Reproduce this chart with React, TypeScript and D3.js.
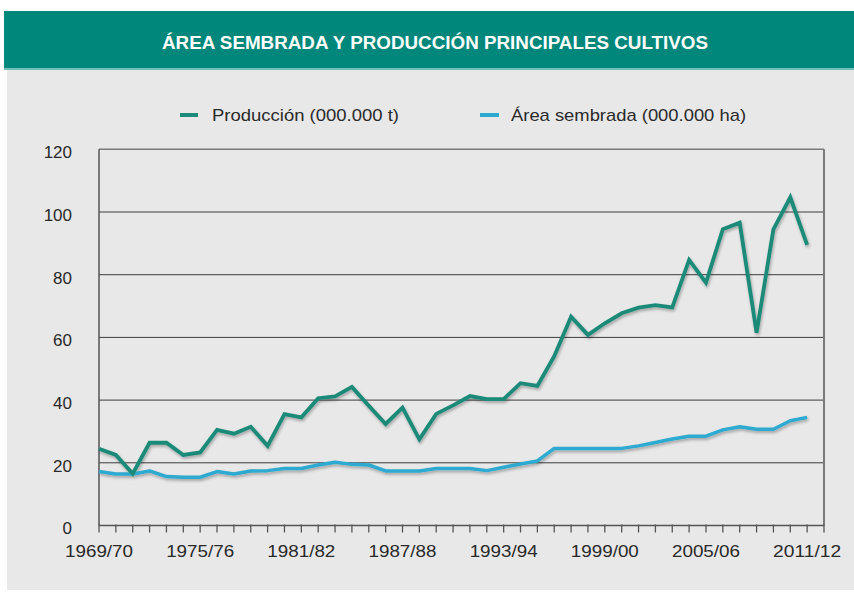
import React from 'react';
import * as d3 from 'd3';

const categories = [
  '1969/70', '1970/71', '1971/72', '1972/73', '1973/74', '1974/75', '1975/76',
  '1976/77', '1977/78', '1978/79', '1979/80', '1980/81', '1981/82', '1982/83',
  '1983/84', '1984/85', '1985/86', '1986/87', '1987/88', '1988/89', '1989/90',
  '1990/91', '1991/92', '1992/93', '1993/94', '1994/95', '1995/96', '1996/97',
  '1997/98', '1998/99', '1999/00', '2000/01', '2001/02', '2002/03', '2003/04',
  '2004/05', '2005/06', '2006/07', '2007/08', '2008/09', '2009/10', '2010/11',
  '2011/12',
];

const produccion = [
  24.5, 22.5, 16.5, 26.4, 26.4, 22.5, 23.3, 30.5, 29.3, 31.5, 25.4, 35.5, 34.5,
  40.6, 41.2, 44.2, 38.2, 32.4, 37.6, 27.5, 35.6, 38.3, 41.3, 40.3, 40.3, 45.4,
  44.5, 54.0, 66.6, 60.8, 64.5, 67.7, 69.5, 70.3, 69.6, 84.7, 77.5, 94.5, 96.6,
  61.5, 94.5, 104.7, 89.5,
];

const areaSembrada = [
  17.2, 16.4, 16.4, 17.4, 15.6, 15.4, 15.4, 17.2, 16.4, 17.4, 17.5, 18.2, 18.2,
  19.3, 20.2, 19.5, 19.3, 17.4, 17.4, 17.4, 18.2, 18.2, 18.2, 17.5, 18.6, 19.6,
  20.6, 24.6, 24.6, 24.6, 24.6, 24.6, 25.4, 26.5, 27.6, 28.5, 28.5, 30.5, 31.5,
  30.7, 30.7, 33.4, 34.5,
];

const yTicks = [0, 20, 40, 60, 80, 100, 120];
const labelEvery = 6;

const seriesNames = ['Producción (000.000 t)', 'Área sembrada (000.000 ha)'];
const title = 'ÁREA SEMBRADA Y PRODUCCIÓN PRINCIPALES CULTIVOS';

const COL_PROD = '#1b8a79';
const COL_AREA = '#2ea9cf';
const BG = '#e8e8e8';
const TEAL = '#00877b';
const FONT = "'Liberation Sans', Arial, Helvetica, sans-serif";

export default function App() {
  const W = 854;
  const H = 595;
  const left = 99;
  const right = 824;
  const top = 149.3;
  const bottom = 525.5;

  const x = d3.scaleLinear().domain([0, categories.length]).range([left, right]);
  const y = d3.scaleLinear().domain([0, 120]).range([bottom, top]);

  const line = d3
    .line<number>()
    .x((_, i) => x(i))
    .y((d) => y(d));

  const tickIdx = d3.range(categories.length + 1);

  return (
    <svg
      width={W}
      height={H}
      style={{ position: 'fixed', left: 0, top: 0, background: '#fff' }}
    >
      <defs>
        <filter id="shadow" x="-10%" y="-10%" width="120%" height="130%">
          <feDropShadow dx="1" dy="2" stdDeviation="1.8" floodColor="#000" floodOpacity="0.3" />
        </filter>
      </defs>
      <rect x={0} y={0} width={W} height={H} fill="#fff" />
      {/* gray panel */}
      <rect x={7} y={69} width={W - 7} height={590 - 69} fill={BG} />
      {/* title bar */}
      <rect x={4} y={11} width={W - 4} height={58} fill={TEAL} />
      <rect x={4} y={68} width={W - 4} height={2} fill="#6cc2b8" />
      <text
        x={435}
        y={49}
        textAnchor="middle"
        fill="#fff"
        fontFamily="'Liberation Sans Narrow', 'Arial Narrow', 'Liberation Sans', Arial, sans-serif"
        fontSize={18}
        fontWeight="bold"
        textLength={546}
        lengthAdjust="spacingAndGlyphs"
      >
        {title}
      </text>

      {/* legend */}
      <line x1={180} x2={198} y1={115} y2={115} stroke={COL_PROD} strokeWidth={4} />
      <text x={212} y={121} fill="#2a2a2a" fontFamily={FONT} fontSize={17} textLength={187} lengthAdjust="spacingAndGlyphs">
        {seriesNames[0]}
      </text>
      <line x1={480} x2={499} y1={115} y2={115} stroke={COL_AREA} strokeWidth={4} />
      <text x={511} y={121} fill="#2a2a2a" fontFamily={FONT} fontSize={17} textLength={235} lengthAdjust="spacingAndGlyphs">
        {seriesNames[1]}
      </text>

      {/* gridlines */}
      {yTicks
        .filter((t) => t > 0 && t < 120)
        .map((t) => (
          <line key={t} x1={left} x2={right} y1={y(t)} y2={y(t)} stroke="#3c3c3c" strokeWidth={1} />
        ))}
      <line x1={left} x2={right} y1={top} y2={top} stroke="#7a7a7a" strokeWidth={1.5} />
      <line x1={right} x2={right} y1={top} y2={bottom} stroke="#7a7a7a" strokeWidth={2} />
      <line x1={left} x2={left} y1={top} y2={bottom} stroke="#555" strokeWidth={1.5} />
      <line x1={left} x2={right} y1={bottom} y2={bottom} stroke="#555" strokeWidth={1.5} />

      {/* x ticks */}
      {tickIdx.map((i) => (
        <line key={i} x1={x(i)} x2={x(i)} y1={bottom - 1} y2={bottom + 7} stroke="#555" strokeWidth={1.3} />
      ))}

      {/* y labels */}
      {yTicks.map((t) => (
        <text
          key={t}
          x={72}
          y={y(t) + 3}
          dy="0.35em"
          textAnchor="end"
          fill="#2a2a2a"
          fontFamily={FONT}
          fontSize={17}
        >
          {t}
        </text>
      ))}

      {/* x labels */}
      {categories.map((c, i) =>
        i % labelEvery === 0 ? (
          <text
            key={c}
            x={x(i)}
            y={557}
            textAnchor="middle"
            fill="#2a2a2a"
            fontFamily={FONT}
            fontSize={17}
            textLength={68}
            lengthAdjust="spacingAndGlyphs"
          >
            {c}
          </text>
        ) : null
      )}

      {/* series */}
      <g filter="url(#shadow)">
        <path d={line(areaSembrada) || ''} fill="none" stroke={COL_AREA} strokeWidth={3.5} strokeLinejoin="round" />
        <path d={line(produccion) || ''} fill="none" stroke={COL_PROD} strokeWidth={3.8} strokeLinejoin="miter" />
      </g>
    </svg>
  );
}
